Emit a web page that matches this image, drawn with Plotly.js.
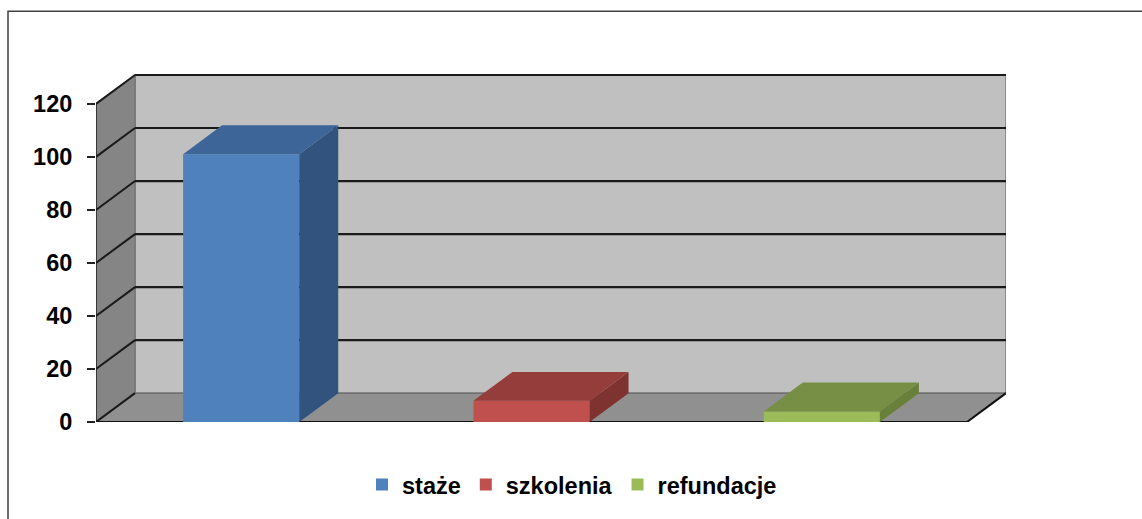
<!DOCTYPE html>
<html>
<head>
<meta charset="utf-8">
<script src="https://cdn.plot.ly/plotly-3.0.1.min.js"></script>
<style>html,body{margin:0;padding:0;background:#fff;}#chart{width:1142px;height:519px;}</style>
</head>
<body>
<div id="chart"></div>
<script>
// ---- data ----
const seriesNames = ['staże', 'szkolenia', 'refundacje'];
const seriesValues = [101, 8, 4];
const tickValues = [0, 20, 40, 60, 80, 100, 120];
const tickLabels = ['0', '20', '40', '60', '80', '100', '120'];

// ---- styling ----
const frontColors = ['#4f81bd', '#c0504d', '#9bbb59'];
const topColors = ['#3d6597', '#943d3b', '#778f44'];
const sideColors = ['#31537d', '#7f3331', '#68803a'];

const W = 1142, H = 519;
const M = {l: 96, r: 136, t: 74, b: 95};
const plotW = W - M.l - M.r, plotH = H - M.t - M.b;
const yMax = 131.25;
const pxPerY = plotH / yMax;
const depthPxX = 39, depthPxY = 29;
const DX = depthPxX * 3 / (plotW - depthPxX);
const DY = depthPxY / pxPerY;
const xLo = -0.5, xHi = seriesNames.length - 0.5;
const barW = 0.4;
const axisMax = tickValues[tickValues.length - 1];

const traces = [];
seriesNames.forEach((name, i) => {
  traces.push({
    type: 'bar', x: [i], y: [seriesValues[i]], width: barW, name: name,
    marker: {color: frontColors[i], line: {width: 0}}, hoverinfo: 'name+y'
  });
});
seriesNames.forEach((name, i) => {
  const v = seriesValues[i], l = i - barW / 2, r = i + barW / 2;
  traces.push({
    type: 'scatter', mode: 'lines', fill: 'toself', showlegend: false, hoverinfo: 'skip',
    x: [r, r + DX, r + DX, r, r], y: [0, DY, v + DY, v, 0],
    line: {width: 0, color: sideColors[i]}, fillcolor: sideColors[i]
  });
  traces.push({
    type: 'scatter', mode: 'lines', fill: 'toself', showlegend: false, hoverinfo: 'skip',
    x: [l, r, r + DX, l + DX, l], y: [v, v, v + DY, v + DY, v],
    line: {width: 0, color: topColors[i]}, fillcolor: topColors[i]
  });
});

const shapes = [];
// back wall
shapes.push({type: 'rect', layer: 'below', xref: 'x', yref: 'y', x0: xLo + DX, x1: xHi + DX, y0: DY, y1: axisMax + DY,
  fillcolor: '#c0c0c0', line: {color: '#7a7a7a', width: 1.5}});
// left wall
shapes.push({type: 'path', layer: 'below', xref: 'x', yref: 'y',
  path: `M${xLo},0 L${xLo + DX},${DY} L${xLo + DX},${axisMax + DY} L${xLo},${axisMax} Z`,
  fillcolor: '#858585', line: {color: '#6e6e6e', width: 1}});
// floor
shapes.push({type: 'path', layer: 'below', xref: 'x', yref: 'y',
  path: `M${xLo},0 L${xHi},0 L${xHi + DX},${DY} L${xLo + DX},${DY} Z`,
  fillcolor: '#909090', line: {width: 0}});
// gridlines
tickValues.forEach(v => {
  if (v > 0) {
    shapes.push({type: 'line', layer: 'below', xref: 'x', yref: 'y', x0: xLo + DX, x1: xHi + DX, y0: v + DY, y1: v + DY,
      line: {color: '#1a1a1a', width: 2.2}});
  } else {
    shapes.push({type: 'line', layer: 'below', xref: 'x', yref: 'y', x0: xLo + DX, x1: xHi + DX, y0: DY, y1: DY,
      line: {color: '#707070', width: 1.5}});
  }
  shapes.push({type: 'line', layer: 'below', xref: 'x', yref: 'y', x0: xLo, x1: xLo + DX, y0: v, y1: v + DY,
    line: {color: '#1a1a1a', width: 2}});
});
// floor front edge + right slant
shapes.push({type: 'line', layer: 'below', xref: 'x', yref: 'y', x0: xLo, x1: xHi, y0: 0, y1: 0, line: {color: '#111', width: 2.2}});
shapes.push({type: 'line', layer: 'below', xref: 'x', yref: 'y', x0: xHi, x1: xHi + DX, y0: 0, y1: DY, line: {color: '#111', width: 2}});
// y axis line
shapes.push({type: 'line', layer: 'below', xref: 'x', yref: 'y', x0: xLo, x1: xLo, y0: 0, y1: axisMax, line: {color: '#222', width: 1.5}});
// outer frame
const px2x = p => (p - M.l) / plotW, px2y = p => (H - M.b - p) / plotH;
shapes.push({type: 'rect', layer: 'above', xref: 'paper', yref: 'paper', x0: px2x(8), x1: px2x(1160), y0: px2y(540), y1: px2y(11),
  fillcolor: 'rgba(0,0,0,0)', line: {color: '#404040', width: 1.5}});

const font = {family: 'Liberation Sans, Arial, sans-serif', size: 23.5, color: '#000', weight: 'bold'};

const layout = {
  width: W, height: H, margin: M,
  paper_bgcolor: '#fff', plot_bgcolor: 'rgba(0,0,0,0)',
  barmode: 'overlay', showlegend: true,
  xaxis: {range: [xLo, xHi + DX], showgrid: false, zeroline: false, showline: false, showticklabels: false, ticks: '', fixedrange: true},
  yaxis: {range: [0, yMax], tickmode: 'array', tickvals: tickValues, ticktext: tickLabels,
    ticks: 'outside', ticklen: 8, tickwidth: 1.5, tickcolor: '#222', ticklabelstandoff: 10,
    showgrid: false, zeroline: false, showline: false, tickfont: font, fixedrange: true},
  legend: {orientation: 'h', x: px2x(362), xanchor: 'left', y: px2y(487), yanchor: 'middle', font: font,
    bgcolor: 'rgba(0,0,0,0)', traceorder: 'normal'},
  shapes: shapes
};

Plotly.newPlot('chart', traces, layout, {displayModeBar: false, staticPlot: true});
</script>
</body>
</html>
